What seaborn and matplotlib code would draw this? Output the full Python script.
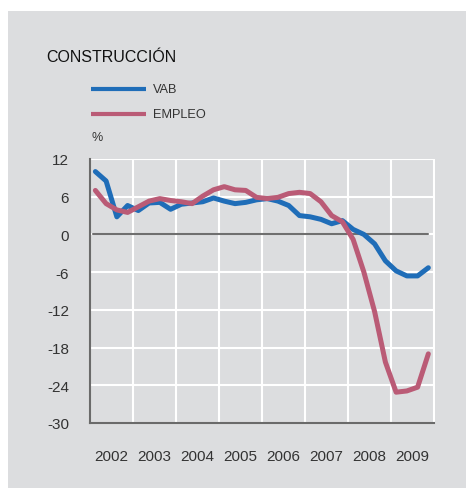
import matplotlib
matplotlib.use("Agg")
import matplotlib.pyplot as plt
import seaborn as sns
import pandas as pd
import numpy as np
from matplotlib.patches import Rectangle

years = ["2002", "2003", "2004", "2005", "2006", "2007", "2008", "2009"]
quarters = ["I", "II", "III", "IV"]
vab = [10.0, 8.5, 2.8, 4.6, 3.8, 5.0, 5.1, 4.0,
       4.8, 5.0, 5.2, 5.8, 5.3, 4.9, 5.1, 5.5,
       5.7, 5.3, 4.6, 3.0, 2.8, 2.4, 1.7, 2.2,
       0.8, 0.0, -1.5, -4.2, -5.8, -6.6, -6.6, -5.3]
empleo = [7.0, 4.9, 3.9, 3.5, 4.4, 5.3, 5.7, 5.4,
          5.2, 4.9, 6.1, 7.1, 7.6, 7.1, 7.0, 5.9,
          5.7, 5.9, 6.5, 6.7, 6.5, 5.2, 3.0, 2.0,
          -0.8, -6.0, -12.3, -20.3, -25.1, -24.9, -24.3, -19.0]
y_ticks = [-30, -24, -18, -12, -6, 0, 6, 12]

BG = "#dcdddf"
BLUE = "#1f6db8"
RED = "#ba5b76"

sns.set_theme(style="white")
plt.rcParams["font.family"] = ["Liberation Sans", "DejaVu Sans"]

n = len(vab)
pos = [i / 4 + 0.125 for i in range(n)]
df = pd.DataFrame({
    "t": pos * 2,
    "valor": vab + empleo,
    "serie": ["VAB"] * n + ["EMPLEO"] * n,
})

fig = plt.figure(figsize=(4.66, 4.89), dpi=100, facecolor="white")
bg = Rectangle((8 / 466, 0), 1, 1 - 12 / 489, transform=fig.transFigure,
               facecolor=BG, edgecolor="none", zorder=-10)
fig.add_artist(bg)

ax = fig.add_axes([90 / 466, 1 - 424 / 489, 345 / 466, 264 / 489])
ax.set_facecolor(BG)
ax.set_zorder(5)

ax.axhline(0, xmin=0.07 / 8.03, xmax=7.87 / 8.03, color="#6f6f6f", lw=1.5, zorder=2)

sns.lineplot(data=df, x="t", y="valor", hue="serie",
             palette={"VAB": BLUE, "EMPLEO": RED}, lw=3.6, ax=ax,
             legend=False, zorder=3)

ax.set_xlim(0, 8.03)
ax.set_ylim(-30, 12)
ax.set_xticks(range(1, 9))
ax.set_xticklabels([])
ax.set_xticks([k + 0.5 for k in range(8)], minor=True)
ax.set_xticklabels(years, minor=True)
ax.set_yticks(y_ticks)
ax.set_yticklabels([str(v) for v in y_ticks])
ax.grid(True, which="major", color="white", lw=1.5, zorder=1)
ax.set_axisbelow(True)
ax.tick_params(axis="x", which="both", length=0, pad=19, labelsize=11, labelcolor="#333333")
ax.tick_params(axis="y", which="major", length=3, color="white", width=1.5,
               pad=12, labelsize=11, labelcolor="#333333")
ax.set_xlabel("")
ax.set_ylabel("")
for s in ["top", "right"]:
    ax.spines[s].set_visible(False)
for s in ["left", "bottom"]:
    ax.spines[s].set_color("#6a6a6a")
    ax.spines[s].set_linewidth(1.5)
ax.spines["bottom"].set_bounds(0, 8)

# title, legend and unit
fig.text(46 / 466, 1 - 57 / 489, "CONSTRUCCIÓN", fontsize=11.5, color="#111111",
         va="center", ha="left")
for yy, lab, col in [(90, "VAB", BLUE), (115, "EMPLEO", RED)]:
    yf = 1 - yy / 489
    fig.add_artist(plt.Line2D([91 / 466, 146 / 466], [yf, yf], color=col, lw=3,
                              solid_capstyle="butt", transform=fig.transFigure))
    fig.text(153 / 466, yf, lab, fontsize=9.2, color="#333333", va="center", ha="left")
fig.text(91 / 466, 1 - 138 / 489, "%", fontsize=9, color="#333333", va="center", ha="left")

fig.savefig("out.png", dpi=100, facecolor=fig.get_facecolor())
